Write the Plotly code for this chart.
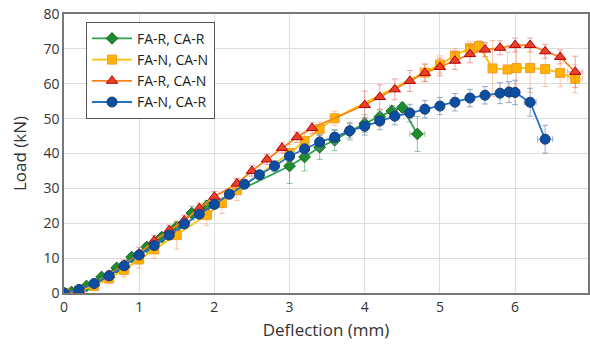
import plotly.graph_objects as go

# FA-R, CA-R (green diamonds)
g_x = [0, 0.1, 0.3, 0.5, 0.7, 0.9, 1.1, 1.3, 1.5, 1.7, 1.9, 3.0, 3.2, 3.4, 3.6, 3.8, 4.0, 4.2, 4.36, 4.5, 4.7]
g_y = [0, 0.3, 2.0, 4.6, 7.2, 10.3, 13.2, 16.0, 19.0, 22.9, 25.0, 36.4, 39.0, 41.8, 43.8, 46.4, 48.6, 50.5, 52.2, 53.2, 45.6]
g_ey = [0, 0.3, 0.5, 0.7, 0.8, 1.0, 1.0, 1.2, 1.5, 2.0, 1.5, 5.0, 4.0, 3.5, 3.0, 2.5, 2.5, 2.0, 1.5, 1.5, 5.0]
g_ex = [0]*20 + [0.1]

# FA-N, CA-N (yellow squares)
y_x = [0, 0.2, 0.4, 0.6, 0.8, 1.0, 1.2, 1.5, 1.9, 2.1, 2.3, 3.0, 3.2, 3.4, 3.6, 4.8, 5.0, 5.2, 5.4, 5.52, 5.7, 5.9, 6.02, 6.2, 6.4, 6.6, 6.8]
y_y = [0, 0.6, 2.0, 4.2, 6.6, 9.6, 12.5, 16.6, 22.4, 25.8, 29.5, 40.1, 43.6, 47.0, 50.1, 63.2, 65.5, 68.1, 70.2, 70.8, 64.4, 64.1, 64.5, 64.5, 64.2, 63.1, 61.4]
y_ey = [0, 0.5, 0.8, 1.5, 2.0, 2.5, 2.5, 4.0, 3.0, 3.0, 3.0, 2.5, 2.5, 2.0, 2.0, 2.5, 2.5, 2.0, 2.0, 1.5, 8.0, 5.0, 7.0, 7.0, 5.0, 4.0, 4.0]
y_ex = [0]*19 + [0.1] + [0]*6 + [0.1]

# FA-R, CA-N (red triangles)
r_x = [0, 0.2, 0.4, 0.6, 0.8, 1.0, 1.2, 1.4, 1.6, 1.8, 2.0, 2.3, 2.5, 2.7, 2.9, 3.1, 3.3, 4.0, 4.2, 4.4, 4.6, 4.8, 5.0, 5.2, 5.4, 5.6, 5.8, 6.0, 6.2, 6.4, 6.6, 6.8]
r_y = [0, 0.8, 2.8, 5.2, 8.0, 11.3, 15.0, 18.0, 20.8, 24.3, 27.6, 31.4, 35.0, 38.3, 41.6, 44.7, 47.3, 53.9, 56.2, 58.4, 60.8, 63.1, 64.8, 66.6, 68.5, 69.8, 70.3, 71.1, 71.1, 69.3, 67.7, 63.4]
r_ey = [0, 0.5, 0.8, 1.2, 1.5, 1.8, 1.5, 1.5, 1.5, 1.5, 1.5, 1.5, 1.5, 1.5, 1.5, 1.5, 1.5, 4.0, 3.5, 3.0, 3.0, 2.5, 2.5, 2.5, 2.5, 2.0, 2.0, 2.0, 2.0, 2.0, 2.0, 4.5]
r_ex = [0]*31 + [0.1]

# FA-N, CA-R (blue circles)
b_x = [0, 0.2, 0.4, 0.6, 0.8, 1.0, 1.2, 1.4, 1.6, 1.8, 2.0, 2.2, 2.4, 2.6, 2.8, 3.0, 3.2, 3.4, 3.6, 3.8, 4.0, 4.2, 4.4, 4.6, 4.8, 5.0, 5.2, 5.4, 5.6, 5.8, 5.92, 6.0, 6.2, 6.4]
b_y = [0, 1.0, 2.7, 4.9, 7.8, 10.9, 13.6, 16.6, 19.8, 22.6, 25.4, 28.3, 31.2, 33.9, 36.4, 39.2, 41.3, 43.3, 44.7, 46.5, 47.8, 49.3, 50.7, 51.6, 52.7, 53.6, 54.7, 55.9, 56.7, 57.3, 57.6, 57.5, 54.7, 44.1]
b_ey = [0, 0.4, 0.6, 0.8, 1.0, 1.2, 1.2, 1.2, 1.2, 1.2, 1.2, 1.2, 1.2, 1.2, 1.5, 1.5, 1.5, 2.0, 2.0, 2.0, 2.5, 2.5, 2.5, 2.5, 2.5, 2.5, 2.5, 2.5, 2.5, 3.0, 3.0, 3.5, 4.0, 4.0]
b_ex = [0]*30 + [0.05, 0.05, 0.08, 0.1]

series = [
    ("FA-R, CA-R", g_x, g_y, g_ey, g_ex, "#2CA24A", "diamond", "#1E8C2E", "#136B1E", 9, "rgba(80,160,90,0.6)"),
    ("FA-N, CA-N", y_x, y_y, y_ey, y_ex, "#FFC000", "square", "#FFB300", "#F39A2D", 9, "rgba(248,160,110,0.6)"),
    ("FA-R, CA-N", r_x, r_y, r_ey, r_ex, "#F8831E", "triangle-up", "#E8412B", "#B80000", 10, "rgba(235,100,100,0.6)"),
    ("FA-N, CA-R", b_x, b_y, b_ey, b_ex, "#2271C8", "circle", "#0B4EA2", "#1B3A78", 10, "rgba(110,135,180,0.7)"),
]

fig = go.Figure()
for name, xs, ys, ey, ex, lc, sym, fc, ec, ms, errc in series:
    fig.add_trace(go.Scatter(
        x=xs, y=ys, name=name, mode="lines+markers",
        line=dict(color=lc, width=1.8),
        marker=dict(symbol=sym, size=ms, color=fc, line=dict(color=ec, width=1)),
        error_y=dict(type="data", array=ey, visible=True, color=errc, thickness=1, width=3),
        error_x=dict(type="data", array=ex, visible=True, color=errc, thickness=1, width=3),
    ))

fig.update_layout(
    width=590, height=346,
    margin=dict(l=64, r=0, t=14, b=53),
    paper_bgcolor="white", plot_bgcolor="white",
    font=dict(family="Open Sans, Liberation Sans, sans-serif", size=14, color="#333333"),
    showlegend=True,
    legend=dict(x=0.042, y=0.972, xanchor="left", yanchor="top",
                bgcolor="white", bordercolor="#555555", borderwidth=1,
                font=dict(size=14, color="#222222"), tracegroupgap=0,
                itemwidth=40),
)
fig.update_xaxes(range=[0, 6.97], dtick=1, tick0=0, showgrid=True, gridcolor="#DDDDDD",
                 showline=True, linecolor="#777777", linewidth=1.5, mirror=True,
                 zeroline=False, ticks="", title=dict(text="Deflection (mm)", standoff=10),
                 tickfont=dict(size=14))
fig.update_yaxes(range=[0, 80], dtick=10, showgrid=True, gridcolor="#DDDDDD",
                 showline=True, linecolor="#777777", linewidth=1.5, mirror=True,
                 zeroline=False, ticks="", title=dict(text="Load (kN)", standoff=12),
                 tickfont=dict(size=14))

fig.write_html("out.html")
